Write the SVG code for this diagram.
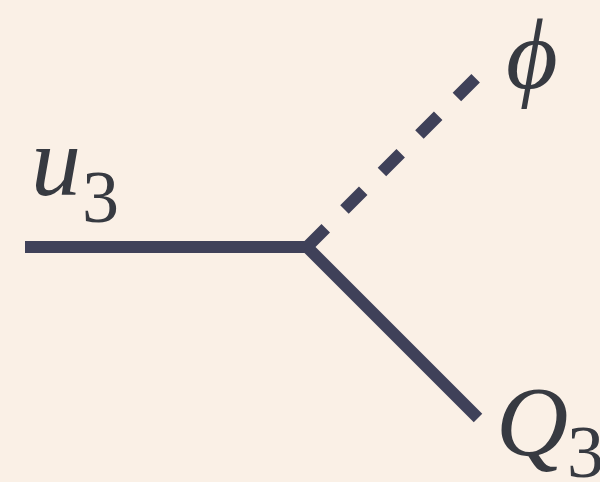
<svg xmlns="http://www.w3.org/2000/svg" width="600" height="482" viewBox="0 0 600 482">
<rect width="600" height="482" fill="#faf0e6"/>
<g id="connectors" stroke="#3f4159" stroke-width="12" fill="none" stroke-linecap="butt">
<line x1="25" y1="247" x2="307" y2="247"/>
<line x1="307" y1="247" x2="478" y2="418"/>
<line x1="307" y1="247" x2="478" y2="76" stroke-dasharray="26.5 26.5"/>
</g>
<g id="u3">
<text x="31" y="195" fill="#373a41" style="font-family:'Liberation Serif',serif !important;font-size:100px;font-style:italic !important">u</text>
<text x="82" y="222" fill="#373a41" style="font-family:'Liberation Serif',serif !important;font-size:74px;font-style:normal">3</text>
</g>
<g id="phi">
<text x="506" y="88" fill="#373a41" style="font-family:'Liberation Serif',serif !important;font-size:100px;font-style:italic !important">ϕ</text>
</g>
<g id="Q3">
<text x="496" y="455" fill="#373a41" style="font-family:'Liberation Serif',serif !important;font-size:100px;font-style:italic !important">Q</text>
<text x="567" y="477" fill="#373a41" style="font-family:'Liberation Serif',serif !important;font-size:74px;font-style:normal">3</text>
</g>
</svg>
